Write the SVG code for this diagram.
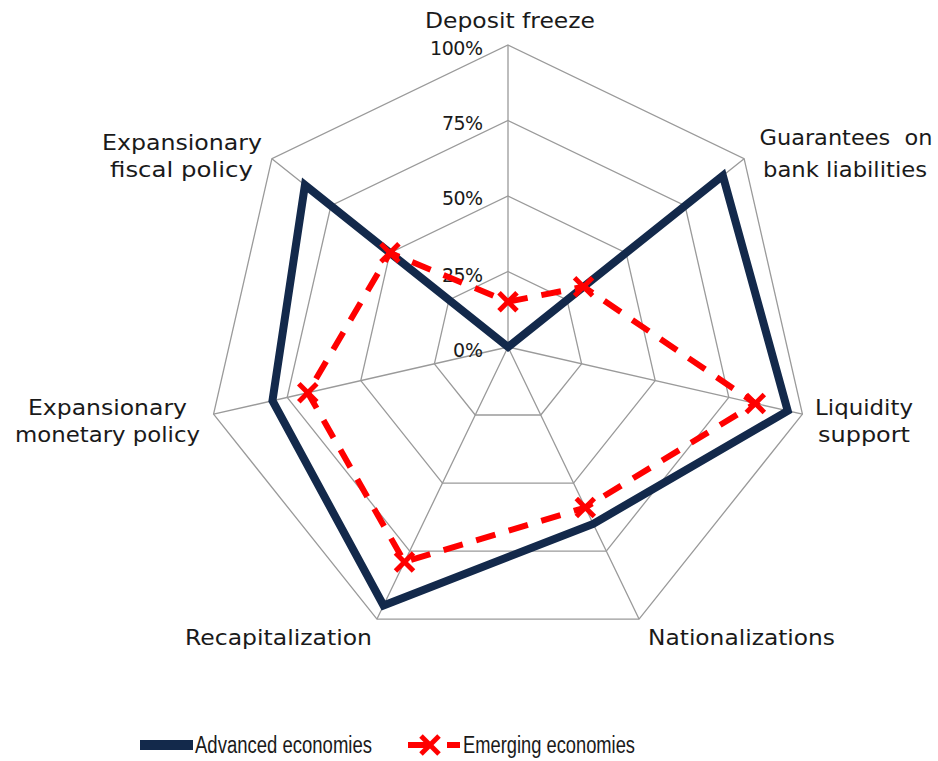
<svg xmlns="http://www.w3.org/2000/svg" xmlns:xlink="http://www.w3.org/1999/xlink" width="938" height="761" viewBox="0 0 938 761">
<style>
.grid{fill:none;stroke:#9a9a9a;stroke-width:1.3}
.lbl{font-family:"DejaVu Sans",Verdana,sans-serif;font-size:22px;fill:#1a1a1a;text-anchor:middle}
.pct{font-family:"DejaVu Sans",Verdana,sans-serif;font-size:19px;fill:#1a1a1a;text-anchor:end}
.leg{font-family:"Liberation Sans",Arial,sans-serif;font-size:23px;fill:#1a1a1a}
.adv{fill:none;stroke:#13294b;stroke-width:8;stroke-linejoin:miter}
.emg{fill:none;stroke:#ff0000;stroke-width:6;stroke-dasharray:20 14}
.xm{stroke:#ff0000;stroke-width:5;stroke-linecap:butt}
</style>
<defs>
<g id="xmark"><line class="xm" x1="-9" y1="-9" x2="9" y2="9"/><line class="xm" x1="-9" y1="9" x2="9" y2="-9"/></g>
</defs>
<rect width="938" height="761" fill="#ffffff"/>
<g id="grid">
<polygon class="grid" points="508,45 744.11,158.71 802.43,414.2 639.03,619.09 376.97,619.09 213.57,414.2 271.89,158.71"/>
<polygon class="grid" points="508,120.5 685.08,205.78 728.82,397.4 606.27,551.07 409.73,551.07 287.18,397.4 330.92,205.78"/>
<polygon class="grid" points="508,196 626.06,252.85 655.21,380.6 573.52,483.05 442.48,483.05 360.79,380.6 389.94,252.85"/>
<polygon class="grid" points="508,271.5 567.03,299.93 581.61,363.8 540.76,415.02 475.24,415.02 434.39,363.8 448.97,299.93"/>
<path class="grid" d="M508,347L508,45M508,347L744.11,158.71M508,347L802.43,414.2M508,347L639.03,619.09M508,347L376.97,619.09M508,347L213.57,414.2M508,347L271.89,158.71"/>
</g>
<g id="scale">
<text class="pct" x="483" y="55" textLength="53">100%</text>
<text class="pct" x="483" y="130" textLength="41">75%</text>
<text class="pct" x="483" y="205" textLength="41">50%</text>
<text class="pct" x="483" y="282" textLength="41">25%</text>
<text class="pct" x="483" y="357" textLength="30">0%</text>
</g>
<g id="axis-labels">
<text class="lbl" x="510" y="28" textLength="170" lengthAdjust="spacingAndGlyphs">Deposit freeze</text>
<text class="lbl" x="846" y="145" textLength="173" lengthAdjust="spacingAndGlyphs" xml:space="preserve">Guarantees  on</text>
<text class="lbl" x="845" y="177" textLength="164" lengthAdjust="spacingAndGlyphs">bank liabilities</text>
<text class="lbl" x="864" y="415" textLength="98" lengthAdjust="spacingAndGlyphs">Liquidity</text>
<text class="lbl" x="864" y="442" textLength="92" lengthAdjust="spacingAndGlyphs">support</text>
<text class="lbl" x="741.5" y="645" textLength="187" lengthAdjust="spacingAndGlyphs">Nationalizations</text>
<text class="lbl" x="278.5" y="645" textLength="187" lengthAdjust="spacingAndGlyphs">Recapitalization</text>
<text class="lbl" x="107.5" y="415" textLength="159" lengthAdjust="spacingAndGlyphs">Expansionary</text>
<text class="lbl" x="107.5" y="442" textLength="185" lengthAdjust="spacingAndGlyphs">monetary policy</text>
<text class="lbl" x="182" y="150" textLength="160" lengthAdjust="spacingAndGlyphs">Expansionary</text>
<text class="lbl" x="181.5" y="177" textLength="143" lengthAdjust="spacingAndGlyphs">fiscal policy</text>
</g>
<g id="connectors">
<polygon id="advanced" class="adv" points="508,347 722.85,175.66 787.71,410.84 593.17,523.86 383.52,605.49 272.46,400.76 304.94,185.07"/>
<polygon id="emerging" class="emg" points="508,301.7 583.56,286.75 755.32,403.45 585.31,507.53 404.49,561.95 307.79,392.7 389.94,252.85"/>
<g id="emerging-markers">
<use xlink:href="#xmark" x="508" y="301.7"/>
<use xlink:href="#xmark" x="583.56" y="286.75"/>
<use xlink:href="#xmark" x="755.32" y="403.45"/>
<use xlink:href="#xmark" x="585.31" y="507.53"/>
<use xlink:href="#xmark" x="404.49" y="561.95"/>
<use xlink:href="#xmark" x="307.79" y="392.7"/>
<use xlink:href="#xmark" x="389.94" y="252.85"/>
</g>
</g>
<g id="legend">
<line x1="140" y1="745" x2="193" y2="745" stroke="#13294b" stroke-width="10"/>
<text class="leg" x="195" y="753" textLength="177" lengthAdjust="spacingAndGlyphs">Advanced economies</text>
<line x1="408" y1="745" x2="428" y2="745" stroke="#ff0000" stroke-width="6"/>
<use xlink:href="#xmark" x="430" y="745"/>
<line x1="447" y1="745" x2="460" y2="745" stroke="#ff0000" stroke-width="6"/>
<text class="leg" x="463" y="753" textLength="172" lengthAdjust="spacingAndGlyphs">Emerging economies</text>
</g>
</svg>
